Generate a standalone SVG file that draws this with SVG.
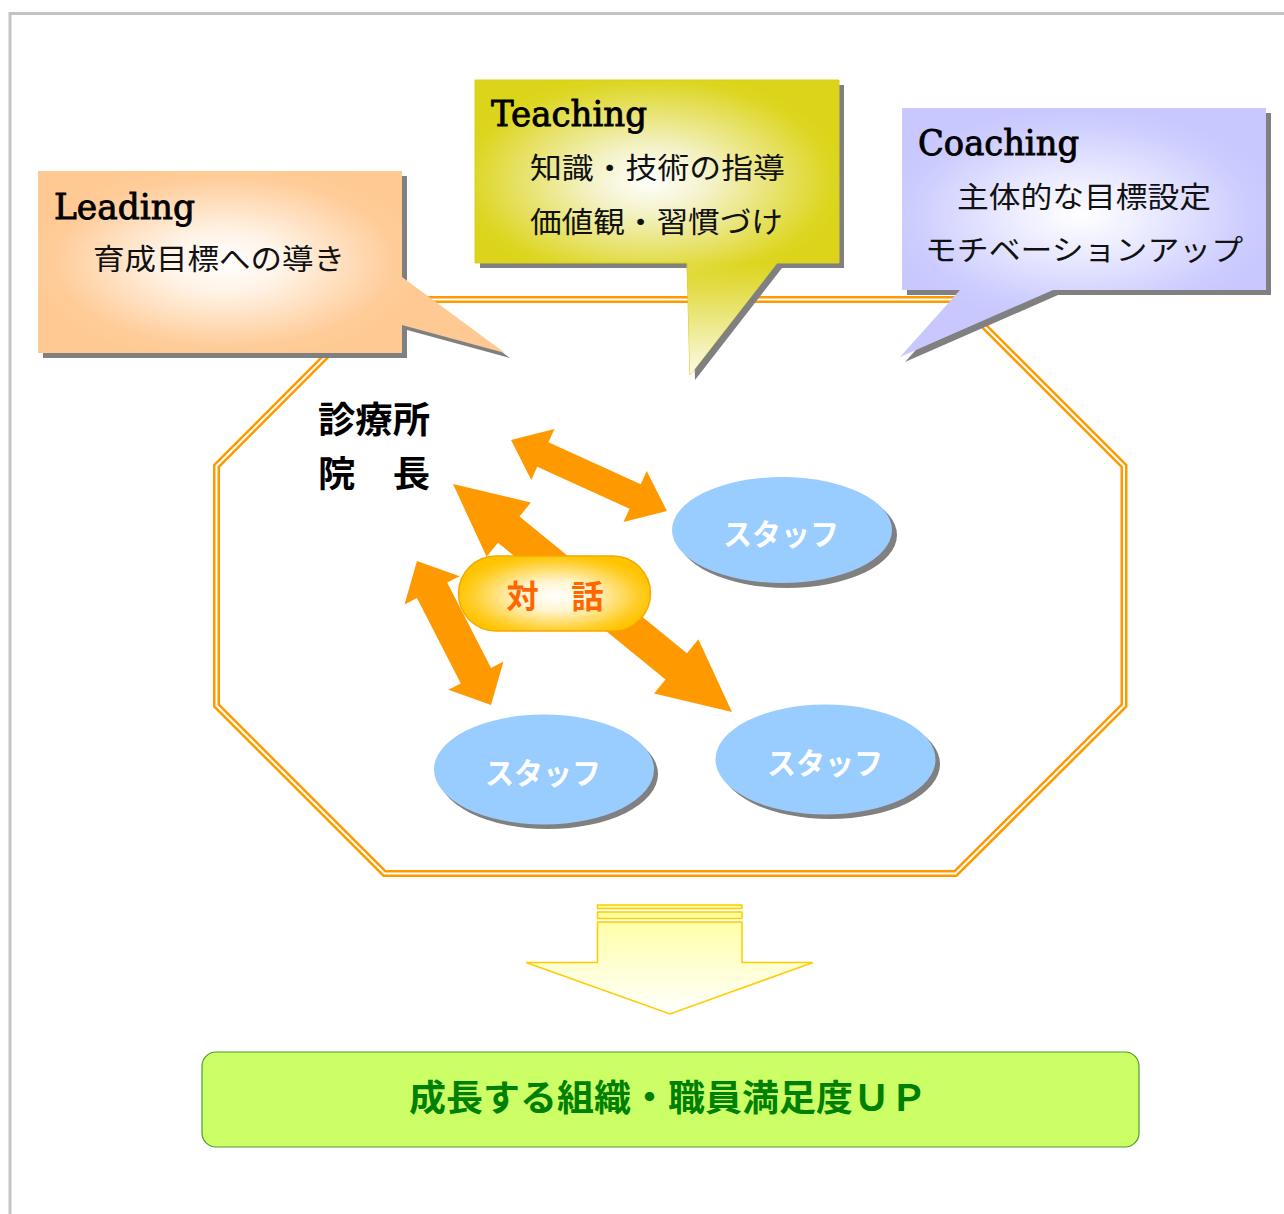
<svg xmlns="http://www.w3.org/2000/svg" width="1284" height="1214" viewBox="0 0 1284 1214">
<defs>
<style>
.jp{font-family:'Noto Sans CJK JP','Noto Sans CJK SC',sans-serif;}
.head{font-family:'DejaVu Serif','Liberation Serif',serif;font-size:36px;fill:#000;stroke:#000;stroke-width:0.9;}
.sub{font-size:29px;fill:#111;}
.staff{font-size:30px;font-weight:bold;fill:#fff;text-anchor:middle;}
.arrow{fill:#FF9900;}
.shadow{fill:#808080;}
.ell{fill:#99CCFF;}
</style>
<radialGradient id="gLead" gradientUnits="userSpaceOnUse" cx="0" cy="0" r="200" gradientTransform="translate(225,262) scale(1,0.5)">
<stop offset="0" stop-color="#FFFFFF"/>
<stop offset="0.3" stop-color="#FFF3E6"/>
<stop offset="0.85" stop-color="#FFCC99"/>
<stop offset="1" stop-color="#FFC993"/>
</radialGradient>
<radialGradient id="gTeach" gradientUnits="userSpaceOnUse" cx="0" cy="0" r="200" gradientTransform="translate(650,180) scale(1,0.55)">
<stop offset="0" stop-color="#FFFFFF"/>
<stop offset="0.3" stop-color="#F4F2C8"/>
<stop offset="0.9" stop-color="#DDD622"/>
<stop offset="1" stop-color="#DCD41A"/>
</radialGradient>
<linearGradient id="gTail" x1="0" y1="263" x2="0" y2="375" gradientUnits="userSpaceOnUse">
<stop offset="0" stop-color="#FFFFFF" stop-opacity="0"/>
<stop offset="1" stop-color="#FFFFFF" stop-opacity="0.9"/>
</linearGradient>
<radialGradient id="gCoach" gradientUnits="userSpaceOnUse" cx="0" cy="0" r="200" gradientTransform="translate(1080,215) scale(1,0.55)">
<stop offset="0" stop-color="#FFFFFF"/>
<stop offset="0.3" stop-color="#EEEEFF"/>
<stop offset="0.85" stop-color="#CCCCFF"/>
<stop offset="1" stop-color="#C8C8FF"/>
</radialGradient>
<radialGradient id="gPill" gradientUnits="userSpaceOnUse" cx="0" cy="0" r="100" gradientTransform="translate(555,596) scale(1,0.42)">
<stop offset="0" stop-color="#FFFFFF"/>
<stop offset="0.35" stop-color="#FFF5D0"/>
<stop offset="0.85" stop-color="#FFCC22"/>
<stop offset="1" stop-color="#FFC400"/>
</radialGradient>
<linearGradient id="gDown" x1="0" y1="905" x2="0" y2="1014" gradientUnits="userSpaceOnUse">
<stop offset="0" stop-color="#FFFF99"/>
<stop offset="1" stop-color="#FFFFFF"/>
</linearGradient>
</defs>

<rect width="1284" height="1214" fill="#FFFFFF"/>
<!-- page border -->
<path d="M10,1214 V13.5 H1284" fill="none" stroke="#C4C4C4" stroke-width="3"/>

<!-- octagon frame -->
<g id="frame">
<polygon points="382.5,299.5 957.5,299.5 1124,466 1124,705.5 955.5,873.5 384.5,873.5 216.5,705.5 216.5,466" fill="none" stroke="#FF9900" stroke-width="7"/>
<polygon points="382.5,299.5 957.5,299.5 1124,466 1124,705.5 955.5,873.5 384.5,873.5 216.5,705.5 216.5,466" fill="none" stroke="#FFFFFF" stroke-width="2"/>
</g>

<!-- callouts -->
<g id="leading">
<path class="shadow" d="M43,176 H407 V282 L510,358 L407,330 V358 H43 Z"/>
<path d="M38,171 H402 V277 L505,353 L402,325 V353 H38 Z" fill="url(#gLead)"/>
<text class="head" x="54" y="219" textLength="141" lengthAdjust="spacingAndGlyphs">Leading</text>
<text class="jp sub" x="93" y="270" textLength="252" lengthAdjust="spacingAndGlyphs">育成目標への導き</text>
</g>

<g id="teaching">
<path class="shadow" d="M480,85 H844 V268 H782 L695,380 L692,268 H480 Z"/>
<path d="M475,80 H839 V263 H777 L690,375 L687,263 H475 Z" fill="url(#gTeach)" stroke="#D8D018" stroke-width="1"/>
<path d="M687,263.5 H777 L690,375 Z" fill="url(#gTail)"/>
<text class="head" x="491" y="126" textLength="156" lengthAdjust="spacingAndGlyphs">Teaching</text>
<text class="jp sub" x="530" y="179" textLength="255" lengthAdjust="spacingAndGlyphs">知識・技術の指導</text>
<text class="jp sub" x="530" y="233" textLength="253" lengthAdjust="spacingAndGlyphs">価値観・習慣づけ</text>
</g>

<g id="coaching">
<path class="shadow" d="M907,113 H1271 V295 H1058 L905,362 L965,295 H907 Z"/>
<path d="M902,108 H1266 V290 H1053 L900,357 L960,290 H902 Z" fill="url(#gCoach)"/>
<text class="head" x="918" y="155" textLength="161" lengthAdjust="spacingAndGlyphs">Coaching</text>
<text class="jp sub" x="957" y="208" textLength="254" lengthAdjust="spacingAndGlyphs">主体的な目標設定</text>
<text class="jp sub" x="925" y="261" textLength="318" lengthAdjust="spacingAndGlyphs">モチベーションアップ</text>
</g>

<!-- connectors -->
<g id="connectors">
<path class="arrow" transform="translate(511,440) rotate(24.5)" d="M0,0 L35,-28 L35,-13.5 L136.4,-13.5 L136.4,-28 L171.4,0 L136.4,28 L136.4,13.5 L35,13.5 L35,28 Z"/>
<path class="arrow" transform="translate(453,484) rotate(39.26)" d="M0,0 L72,-35 L72,-17 L288.3,-17 L288.3,-35 L360.3,0 L288.3,35 L288.3,17 L72,17 L72,35 Z"/>
<path class="arrow" transform="translate(417,561) rotate(62.8)" d="M0,0 L33,-31 L33,-17 L128.9,-17 L128.9,-31 L161.9,0 L128.9,31 L128.9,17 L33,17 L33,31 Z"/>
</g>

<!-- dialogue pill -->
<g id="dialogue">
<rect x="458.5" y="556" width="192" height="75" rx="37.5" fill="url(#gPill)" stroke="#F5A800" stroke-width="1.5"/>
<text class="jp" x="555" y="608" text-anchor="middle" font-size="32" font-weight="bold" fill="#FF6600" textLength="97" lengthAdjust="spacingAndGlyphs">対　話</text>
</g>

<!-- director label -->
<g id="director">
<text class="jp" x="318" y="433" font-size="36" font-weight="bold" fill="#000" textLength="112" lengthAdjust="spacingAndGlyphs">診療所</text>
<text class="jp" x="318" y="487" font-size="36" font-weight="bold" fill="#000" textLength="112" lengthAdjust="spacingAndGlyphs">院　長</text>
</g>

<!-- staff nodes -->
<g id="staff1">
<ellipse class="shadow" cx="787" cy="535" rx="110" ry="53"/>
<ellipse class="ell" cx="782" cy="530" rx="110" ry="53"/>
<text class="jp staff" x="781" y="545" textLength="116" lengthAdjust="spacingAndGlyphs">スタッフ</text>
</g>
<g id="staff2">
<ellipse class="shadow" cx="548" cy="774" rx="110" ry="55"/>
<ellipse class="ell" cx="544" cy="769.5" rx="110" ry="55"/>
<text class="jp staff" x="543" y="784" textLength="116" lengthAdjust="spacingAndGlyphs">スタッフ</text>
</g>
<g id="staff3">
<ellipse class="shadow" cx="830" cy="764" rx="110" ry="55"/>
<ellipse class="ell" cx="825.5" cy="759.5" rx="110" ry="55"/>
<text class="jp staff" x="825" y="774" textLength="116" lengthAdjust="spacingAndGlyphs">スタッフ</text>
</g>

<!-- big down arrow -->
<g id="down-arrow" fill="url(#gDown)" stroke="#FFCC00" stroke-width="1.5">
<rect x="597.5" y="905" width="144.5" height="3.5"/>
<rect x="597.5" y="912" width="144.5" height="6.5"/>
<path d="M597.5,922 H742 V962.5 H813 L670,1014 L526,962.5 H597.5 Z"/>
</g>

<!-- result box -->
<g id="result">
<rect x="202" y="1052" width="937" height="95" rx="14" fill="#CCFF66" stroke="#4C9A2A" stroke-width="1.2"/>
<text class="jp" x="668" y="1111" text-anchor="middle" font-size="36" font-weight="bold" fill="#008000" textLength="518" lengthAdjust="spacingAndGlyphs">成長する組織・職員満足度ＵＰ</text>
</g>
</svg>
